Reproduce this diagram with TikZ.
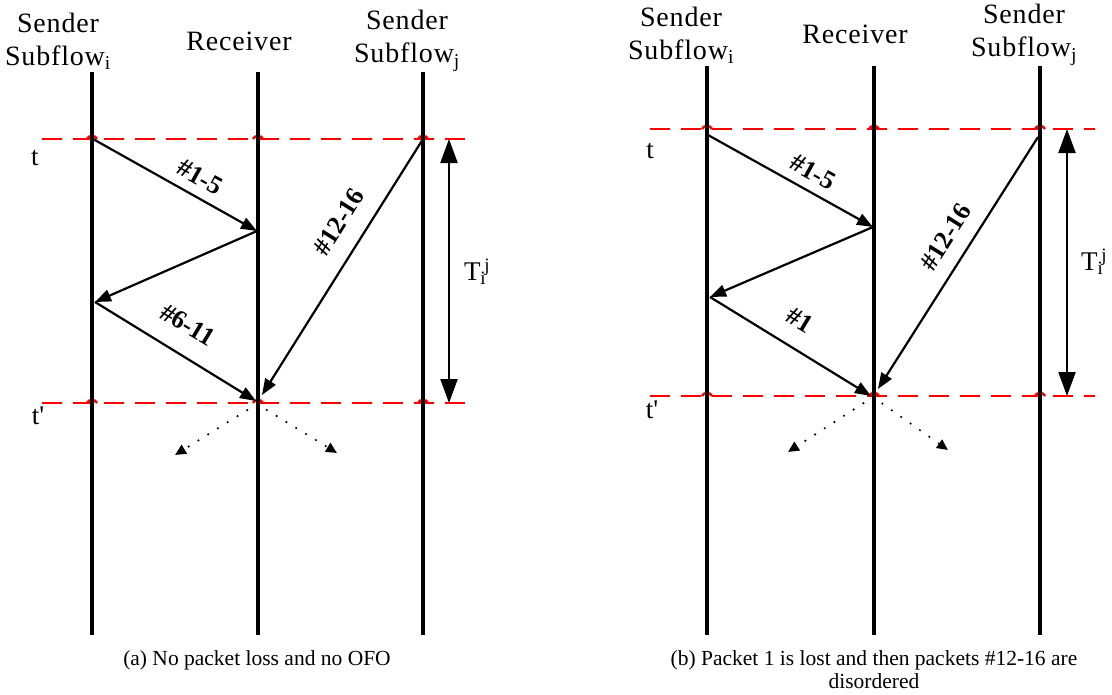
\documentclass[tikz,border=0pt]{standalone}
\usepackage{fontspec}
\setmainfont{Liberation Serif}
\newfontfamily\hdrfont[LetterSpace=3]{Liberation Serif}
\usetikzlibrary{arrows.meta}
\begin{document}
\begin{tikzpicture}[x=1pt,y=-1pt,
 life/.style={line width=4.5pt},
 msg/.style={line width=2.2pt,-{Triangle[length=16pt,width=12pt]}},
 dur/.style={line width=2.2pt,{Triangle[length=24pt,width=17pt]}-{Triangle[length=24pt,width=17pt]}},
 dotarrow/.style={line width=2.4pt,line cap=round,dash pattern=on 0pt off 11.5pt,-{Triangle[length=11pt,width=10pt]}},
 timeline/.style={red,line width=2.8pt,dash pattern=on 20pt off 11pt},
 hop/.style={red,line width=2.4pt},
 hdr/.style={font=\hdrfont\fontsize{28}{33}\selectfont,align=center,inner sep=0pt},
 lbl/.style={font=\fontsize{26}{28}\selectfont\bfseries,inner sep=0pt},
 tlbl/.style={font=\fontsize{27}{30}\selectfont,inner sep=0pt},
 caplbl/.style={font=\fontsize{21.5}{23}\selectfont,align=center,inner sep=0pt}]
\useasboundingbox (0,0) rectangle (1112,694);

% ---------------- Panel (a) ----------------
\coordinate (aSt) at (92,72);   \coordinate (aSb) at (92,635);
\coordinate (aRt) at (258,72);  \coordinate (aRb) at (258,635);
\coordinate (aJt) at (423,72);  \coordinate (aJb) at (423,635);
\coordinate (aT1l) at (42,139); \coordinate (aT1r) at (473,139);
\coordinate (aT2l) at (42,403); \coordinate (aT2r) at (473,403);

\draw[timeline] (aT1l) -- (aT1r);
\draw[timeline] (aT2l) -- (aT2r);
\foreach \xx/\yy in {92/139,258/139,423/139,92/403,258/403,423/403}{
  \draw[hop] (\xx-5,\yy) .. controls (\xx-4,\yy-4) and (\xx+4,\yy-4) .. (\xx+5,\yy);
}
\draw[life] (aSt) -- (aSb);
\draw[life] (aRt) -- (aRb);
\draw[life] (aJt) -- (aJb);

\node[hdr] (aHs) at (58,41) {Sender\\Subflow\textsubscript{i}};
\node[hdr] (aHr) at (239,41) {Receiver};
\node[hdr] (aHj) at (407,41) {Sender\\Subflow\textsubscript{j}};

\node[tlbl] (at) at (35,158) {t};
\node[tlbl] (atp) at (38,416) {t\textquotesingle};

\coordinate (a1) at (93,139);
\coordinate (a2) at (257,231);
\coordinate (a3) at (95,302);
\coordinate (a4) at (256,401);
\coordinate (a5) at (423,139);
\coordinate (a6) at (262,395);
\draw[msg] (a1) -- (a2);
\draw[msg] (a2) -- (a3);
\draw[msg] (a3) -- (a4);
\draw[msg] (a5) -- (a6);
\node[lbl,rotate=-29] (al1) at (200,177) {\#1-5};
\node[lbl,rotate=58] (al2) at (339,222) {\#12-16};
\node[lbl,rotate=-31] (al3) at (188,325) {\#6-11};

\coordinate (ad0) at (257,404);
\coordinate (adl) at (175,455);
\coordinate (adr) at (337,453);
\draw[dotarrow] (ad0) -- (adl);
\draw[dotarrow] (ad0) -- (adr);

\coordinate (aT1) at (449,139);
\coordinate (aT2) at (449,403);
\draw[dur] (aT1) -- (aT2);
\node[tlbl] (aTl) at (477,272) {T\textsubscript{i}\kern-2pt\textsuperscript{j}};

\node[caplbl] (acap) at (257,660) {(a) No packet loss and no OFO};

% ---------------- Panel (b) ----------------
\coordinate (bSt) at (707,66);   \coordinate (bSb) at (707,635);
\coordinate (bRt) at (874,66);   \coordinate (bRb) at (874,635);
\coordinate (bJt) at (1040,66);  \coordinate (bJb) at (1040,635);
\coordinate (bT1l) at (650,129); \coordinate (bT1r) at (1095,129);
\coordinate (bT2l) at (650,396); \coordinate (bT2r) at (1095,396);

\draw[timeline] (bT1l) -- (bT1r);
\draw[timeline] (bT2l) -- (bT2r);
\foreach \xx/\yy in {707/129,874/129,1040/129,707/396,874/396,1040/396}{
  \draw[hop] (\xx-5,\yy) .. controls (\xx-4,\yy-4) and (\xx+4,\yy-4) .. (\xx+5,\yy);
}
\draw[life] (bSt) -- (bSb);
\draw[life] (bRt) -- (bRb);
\draw[life] (bJt) -- (bJb);

\node[hdr] (bHs) at (681,35) {Sender\\Subflow\textsubscript{i}};
\node[hdr] (bHr) at (855,34) {Receiver};
\node[hdr] (bHj) at (1024,35) {Sender\\Subflow\textsubscript{j}};

\node[tlbl] (bt) at (650,151) {t};
\node[tlbl] (btp) at (652,410) {t\textquotesingle};

\coordinate (b1) at (708,135);
\coordinate (b2) at (873,227);
\coordinate (b3) at (710,297);
\coordinate (b4) at (871,396);
\coordinate (b5) at (1038,137);
\coordinate (b6) at (878,389);
\draw[msg] (b1) -- (b2);
\draw[msg] (b2) -- (b3);
\draw[msg] (b3) -- (b4);
\draw[msg] (b5) -- (b6);
\node[lbl,rotate=-29] (bl1) at (813,172) {\#1-5};
\node[lbl,rotate=58] (bl2) at (946,237) {\#12-16};
\node[lbl,rotate=-31] (bl3) at (800,320) {\#1};

\coordinate (bd0) at (873,397);
\coordinate (bdl) at (788,452);
\coordinate (bdr) at (948,450);
\draw[dotarrow] (bd0) -- (bdl);
\draw[dotarrow] (bd0) -- (bdr);

\coordinate (bT1) at (1067,129);
\coordinate (bT2) at (1067,396);
\draw[dur] (bT1) -- (bT2);
\node[tlbl] (bTl) at (1094,262) {T\textsubscript{i}\kern-2pt\textsuperscript{j}};

\node[caplbl] (bcap) at (874,670) {(b) Packet 1 is lost and then packets \#12-16 are\\disordered};
\end{tikzpicture}
\end{document}
